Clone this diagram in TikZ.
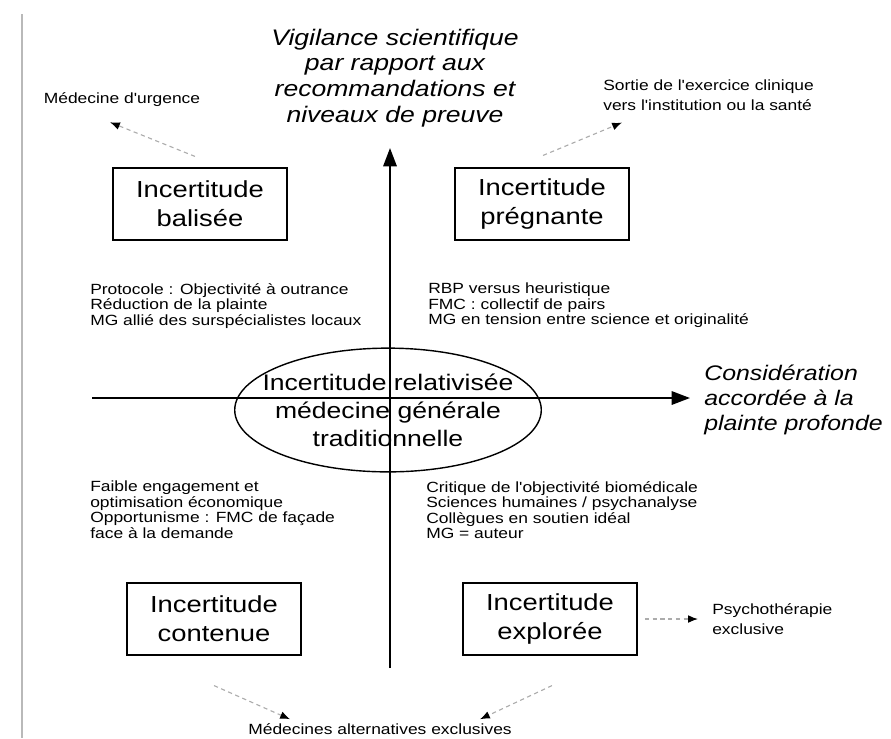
\documentclass[tikz,border=0pt]{standalone}
\usepackage{fontspec}
\usepackage{tikz}
\usetikzlibrary{arrows.meta,positioning,calc,shapes.geometric}
\newfontfamily\figsans[FakeStretch=1.18]{Liberation Sans}
\tikzset{
  boite/.style={rectangle, draw=black, line width=1pt, minimum width=124pt, minimum height=51pt,
                align=center, font=\figsans\fontsize{16.5}{20.5}\selectfont},
  quadtxt/.style={anchor=north west, align=left, inner sep=0pt,
                  font=\figsans\fontsize{10.5}{11}\selectfont},
  cote/.style={align=left, inner sep=0pt, font=\figsans\fontsize{10.5}{14}\selectfont},
  titre/.style={align=center, inner sep=0pt, font=\figsans\itshape\fontsize{16}{18.4}\selectfont},
  axe/.style={line width=1.4pt, -{Triangle[length=13pt,width=9.5pt]}},
  pointille/.style={draw=gray!65, line width=0.8pt, dash pattern=on 3pt off 2.5pt,
                    -{Latex[length=7pt,width=5.5pt,color=black]}},
}

\begin{document}
\begin{tikzpicture}[x=0.025cm, y=-0.025cm]
    \useasboundingbox (0,0) rectangle (891,738);
    % Bord de page
    \draw[gray!55, line width=1.3pt] (22,14) -- (22,738);
    % Titres des axes
    \node[titre] (vigil) at (395,78)
      {Vigilance scientifique\\par rapport aux\\recommandations et\\niveaux de preuve};
    \node[titre, anchor=west, align=left, font=\figsans\itshape\fontsize{15}{18}\selectfont] (consid) at (704,400)
      {Considération\\accordée à la\\plainte profonde};
    % Les quatre incertitudes
    \node[boite] (balisee) at (200,204) {Incertitude\\balisée};
    \node[boite] (pregnante) at (542,204) {Incertitude\\prégnante};
    \node[boite] (contenue) at (214,619) {Incertitude\\contenue};
    \node[boite] (exploree) at (550,619) {Incertitude\\explorée};
    % Centre
    \node[ellipse, draw, line width=1pt, minimum width=218pt, minimum height=88pt] (relat) at (388,410) {};
    \node[align=center, font=\figsans\fontsize{16}{20}\selectfont] (relatlbl) at (relat.center)
      {Incertitude relativisée\\médecine générale\\traditionnelle};
    % Quadrants
    \node[quadtxt] (qhg) at (90,283)
      {Protocole : Objectivité à outrance\\Réduction de la plainte\\MG allié des surspécialistes locaux};
    \node[quadtxt] (qhd) at (428,283)
      {RBP versus heuristique\\FMC : collectif de pairs\\MG en tension entre science et originalité};
    \node[quadtxt] (qbg) at (90,481)
      {Faible engagement et\\optimisation économique\\Opportunisme : FMC de façade\\face à la demande};
    \node[quadtxt] (qbd) at (426,481)
      {Critique de l'objectivité biomédicale\\Sciences humaines / psychanalyse\\Collègues en soutien idéal\\MG = auteur};
    % Sorties
    \node[cote] (urgence) at (122,100) {Médecine d'urgence};
    \node[cote, anchor=west] (sortie) at (603,95) {Sortie de l'exercice clinique\\vers l'institution ou la santé};
    \node[cote, anchor=west] (psycho) at (712,619) {Psychothérapie\\exclusive};
    \node[cote] (alter) at (380,729) {Médecines alternatives exclusives};
    % Axes
    \coordinate (ybas) at (390,668);
    \coordinate (yhaut) at (390,148);
    \coordinate (xgauche) at (92,398);
    \coordinate (xdroite) at (690,398);
    \draw[axe] (ybas) -- (yhaut);
    \draw[axe] (xgauche) -- (xdroite);
    % Flèches pointillées
    \draw[pointille] ($(balisee.north)+(-5,-11)$) -- ($(urgence.south)+(-12,15)$);
    \draw[pointille] ($(pregnante.north)+(1,-12)$) -- ($(sortie.south west)+(19,12)$);
    \draw[pointille] ($(contenue.south)+(0,30)$) -- ($(alter.north)+(-90,-4)$);
    \draw[pointille] ($(exploree.south)+(2,30)$) -- ($(alter.north)+(100,-4)$);
    \draw[pointille, shorten <=5pt, shorten >=10pt] (exploree.east) -- (psycho.west);
\end{tikzpicture}
\end{document}
